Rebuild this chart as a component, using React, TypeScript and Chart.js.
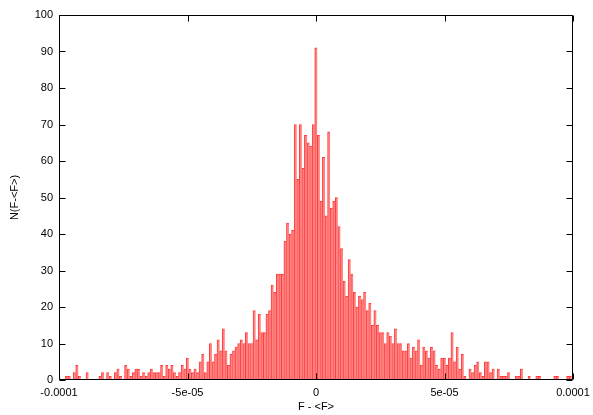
import React, { useEffect, useRef } from 'react';
import { Chart, registerables } from 'chart.js';

Chart.register(...registerables);

// Histogram of F - <F>; bins of width 1e-6 centred on n*1e-6, n = -100..100
const binWidth = 1e-6;
const counts: number[] = [
  // n = -100 .. -91
  1, 0, 0, 1, 1, 0, 2, 4, 1, 0,
  // -90 .. -81
  0, 2, 0, 0, 0, 0, 1, 2, 0, 2,
  // -80 .. -71
  1, 0, 2, 3, 1, 0, 4, 3, 1, 2,
  // -70 .. -61
  3, 3, 1, 2, 1, 2, 3, 2, 2, 2,
  // -60 .. -51
  4, 1, 4, 3, 4, 2, 1, 2, 4, 3,
  // -50 .. -41
  6, 3, 2, 3, 2, 5, 7, 2, 5, 10,
  // -40 .. -31
  5, 7, 11, 8, 14, 8, 4, 7, 8, 9,
  // -30 .. -21
  10, 11, 10, 13, 10, 10, 19, 11, 18, 13,
  // -20 .. -11
  13, 18, 19, 26, 24, 29, 29, 29, 38, 43,
  // -10 .. -1
  40, 41, 70, 55, 70, 58, 67, 65, 64, 70,
  // 0
  91,
  // 1 .. 10
  67, 49, 61, 45, 68, 47, 49, 50, 42, 36,
  // 11 .. 20
  27, 23, 33, 29, 24, 20, 23, 22, 24, 19,
  // 21 .. 30
  21, 15, 19, 15, 13, 13, 10, 13, 12, 10,
  // 31 .. 40
  14, 10, 10, 8, 8, 10, 6, 9, 8, 11,
  // 41 .. 50
  4, 9, 8, 6, 9, 8, 4, 3, 6, 6,
  // 51 .. 60
  4, 6, 13, 5, 9, 3, 7, 1, 0, 3,
  // 61 .. 70
  2, 4, 5, 2, 1, 5, 5, 2, 3, 0,
  // 71 .. 80
  3, 1, 1, 1, 2, 0, 0, 1, 1, 3,
  // 81 .. 90
  0, 0, 1, 0, 0, 1, 1, 0, 0, 0,
  // 91 .. 100
  0, 0, 1, 1, 0, 0, 0, 1, 1, 0,
];
const firstBin = -100;
const binCenters: number[] = counts.map((_, i) => (firstBin + i) * binWidth);

const xTickValues: number[] = [-1e-4, -5e-5, 0, 5e-5, 1e-4];
const xTickLabels: string[] = ['-0.0001', '-5e-05', '0', '5e-05', '0.0001'];
const yTickValues: number[] = [0, 10, 20, 30, 40, 50, 60, 70, 80, 90, 100];

const framePlugin = {
  id: 'gnuFrame',
  afterDatasetsDraw(chart: any) {
    const { ctx, chartArea, scales } = chart;
    const l = Math.round(chartArea.left) + 0.5;
    const r = Math.round(chartArea.right) - 0.5;
    const t = Math.round(chartArea.top) + 0.5;
    const b = Math.round(chartArea.bottom) - 0.5;
    const tl = 6;
    ctx.save();
    ctx.strokeStyle = '#000';
    ctx.lineWidth = 1;
    ctx.beginPath();
    ctx.rect(l, t, r - l, b - t);
    ctx.stroke();
    ctx.beginPath();
    for (const v of yTickValues) {
      const py = Math.round(scales.y.getPixelForValue(v)) + 0.5;
      ctx.moveTo(l, py); ctx.lineTo(l + tl, py);
      ctx.moveTo(r, py); ctx.lineTo(r - tl, py);
    }
    for (const v of xTickValues) {
      const px = Math.round(scales.x.getPixelForValue(v)) + 0.5;
      ctx.moveTo(px, b); ctx.lineTo(px, b - tl);
      ctx.moveTo(px, t); ctx.lineTo(px, t + tl);
    }
    ctx.stroke();
    ctx.restore();
  },
};

export default function App() {
  const ref = useRef<HTMLCanvasElement | null>(null);
  useEffect(() => {
    document.body.style.margin = '0';
    const canvas = ref.current!;
    Chart.defaults.font.family = '"Liberation Sans", Arial, sans-serif';
    Chart.defaults.font.size = 11;
    Chart.defaults.color = '#000';
    const chart = new Chart(canvas, {
      type: 'bar',
      data: {
        datasets: [
          {
            data: binCenters.map((x, i) => ({ x, y: counts[i] })),
            backgroundColor: '#ff8282',
            borderColor: '#ff3c3c',
            borderWidth: { top: 1, left: 1, right: 0, bottom: 0 },
            borderSkipped: false,
            barPercentage: 1,
            categoryPercentage: 1,
          },
        ],
      },
      options: {
        responsive: false,
        animation: false,
        events: [],
        layout: { padding: { top: 15, right: 20, left: 0, bottom: 0 } },
        plugins: { legend: { display: false }, tooltip: { enabled: false } },
        scales: {
          x: {
            type: 'linear',
            min: -1e-4,
            max: 1e-4,
            offset: false,
            grid: { display: false, drawTicks: false },
            border: { display: false },
            afterBuildTicks: (s: any) => {
              s.ticks = xTickValues.map((v) => ({ value: v }));
            },
            ticks: {
              padding: 6,
              maxRotation: 0,
              autoSkip: false,
              callback: (_v: any, i: number) => xTickLabels[i],
            },
            title: { display: true, text: 'F - <F>', padding: { top: 0, bottom: 1 } },
            afterFit: (s: any) => {
              s.height = 35;
              s.paddingLeft = 0;
              s.paddingRight = 0;
            },
          },
          y: {
            min: 0,
            max: 100,
            grid: { display: false, drawTicks: false },
            border: { display: false },
            afterBuildTicks: (s: any) => {
              s.ticks = yTickValues.map((v) => ({ value: v }));
            },
            ticks: { padding: 6, autoSkip: false },
            title: { display: true, text: 'N(F-<F>)', padding: { top: 8, bottom: 0 } },
            afterFit: (s: any) => { s.width = 59; },
          },
        },
      },
      plugins: [framePlugin],
    });
    return () => chart.destroy();
  }, []);
  return <canvas ref={ref} width={593} height={415} style={{ display: 'block' }} />;
}
